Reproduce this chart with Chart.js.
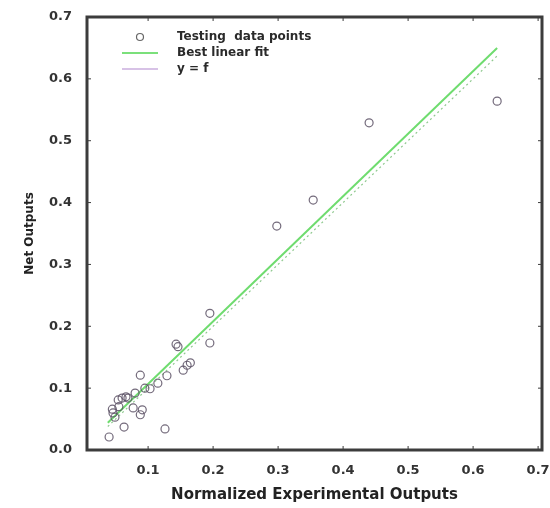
<!DOCTYPE html>
<html>
<head>
<meta charset="utf-8">
<script src="https://cdn.jsdelivr.net/npm/chart.js@4.4.0/dist/chart.umd.min.js"></script>
<style>
    html, body { margin: 0; padding: 0; background: #fff; }
    #wrap { width: 550px; height: 508px; position: relative; }
</style>
</head>
<body>
<div id="wrap"><canvas id="fitChart"></canvas></div>
<script>
// Testing data
const expOutputs = [0.040, 0.045, 0.049, 0.063, 0.060, 0.066, 0.055, 0.077, 0.080, 0.088,
    0.091, 0.088, 0.095, 0.103, 0.115, 0.129, 0.126, 0.143, 0.146, 0.154,
    0.160, 0.165, 0.195, 0.195, 0.298, 0.354, 0.440, 0.637, 0.054, 0.046, 0.069];
const netOutputs = [0.021, 0.066, 0.053, 0.037, 0.084, 0.086, 0.070, 0.068, 0.092, 0.121,
    0.065, 0.057, 0.100, 0.099, 0.108, 0.120, 0.034, 0.171, 0.167, 0.129,
    0.137, 0.141, 0.221, 0.173, 0.362, 0.404, 0.529, 0.564, 0.081, 0.060, 0.084];

// Best linear fit and y = f line end points
const fitX = [0.038, 0.637];
const fitY = [0.044, 0.650];
const identX = [0.038, 0.637];
const identY = [0.038, 0.637];

const tickValues = [0.1, 0.2, 0.3, 0.4, 0.5, 0.6, 0.7];
const yTickValues = [0.0, 0.1, 0.2, 0.3, 0.4, 0.5, 0.6, 0.7];

const legendLabels = ['Testing  data points', 'Best linear fit', 'y = f'];

const pts = expOutputs.map((x, i) => ({ x: x, y: netOutputs[i] }));
const fitPts = fitX.map((x, i) => ({ x: x, y: fitY[i] }));
const identPts = identX.map((x, i) => ({ x: x, y: identY[i] }));

const FONT = '"DejaVu Sans", Verdana, sans-serif';
const tickFont = { family: FONT, size: 13, weight: 'bold' };

// frame + inward tick marks on all four sides
const framePlugin = {
    id: 'frame',
    afterDraw(chart) {
        const ctx = chart.ctx;
        const a = chart.chartArea;
        const xs = chart.scales.x, ys = chart.scales.y;
        ctx.save();
        ctx.strokeStyle = '#3c3c3c';
        ctx.lineWidth = 1;
        xs.ticks.forEach(t => {
            const px = xs.getPixelForValue(t.value);
            ctx.beginPath();
            ctx.moveTo(px, a.bottom); ctx.lineTo(px, a.bottom - 4);
            ctx.moveTo(px, a.top); ctx.lineTo(px, a.top + 4);
            ctx.stroke();
        });
        ys.ticks.forEach(t => {
            const py = ys.getPixelForValue(t.value);
            ctx.beginPath();
            ctx.moveTo(a.left, py); ctx.lineTo(a.left + 4, py);
            ctx.moveTo(a.right, py); ctx.lineTo(a.right - 4, py);
            ctx.stroke();
        });
        ctx.lineWidth = 3;
        ctx.strokeRect(a.left, a.top, a.right - a.left, a.bottom - a.top);
        ctx.restore();
    }
};

// legend drawn inside the plot, top left
const legendPlugin = {
    id: 'innerLegend',
    afterDraw(chart) {
        const ctx = chart.ctx;
        ctx.save();
        ctx.font = 'bold 12px ' + FONT;
        ctx.fillStyle = '#2a2a2a';
        ctx.textBaseline = 'middle';
        const rows = [37, 53, 69];
        // marker
        ctx.strokeStyle = '#666';
        ctx.lineWidth = 1.2;
        ctx.beginPath();
        ctx.arc(140, rows[0], 3.5, 0, Math.PI * 2);
        ctx.stroke();
        ctx.lineWidth = 2;
        ctx.strokeStyle = '#7be07b';
        ctx.beginPath(); ctx.moveTo(122, rows[1]); ctx.lineTo(158, rows[1]); ctx.stroke();
        ctx.strokeStyle = '#d7c2e6';
        ctx.beginPath(); ctx.moveTo(122, rows[2]); ctx.lineTo(158, rows[2]); ctx.stroke();
        legendLabels.forEach((txt, i) => ctx.fillText(txt, 177, rows[i]));
        ctx.restore();
    }
};

new Chart(document.getElementById('fitChart'), {
    type: 'scatter',
    data: {
        datasets: [{
            label: legendLabels[0],
            data: pts,
            pointStyle: 'circle',
            pointRadius: 4,
            pointBorderWidth: 1.2,
            borderColor: 'rgba(90, 80, 100, 0.85)',
            backgroundColor: 'rgba(0,0,0,0)',
            order: 1
        }, {
            label: legendLabels[1],
            data: fitPts,
            showLine: true,
            borderColor: '#6fdc6f',
            borderWidth: 2,
            pointRadius: 0,
            order: 2
        }, {
            label: legendLabels[2],
            data: identPts,
            showLine: true,
            borderColor: '#8fc98f',
            borderWidth: 1.2,
            borderDash: [2, 3],
            pointRadius: 0,
            order: 3
        }]
    },
    options: {
        responsive: true,
        maintainAspectRatio: false,
        animation: false,
        layout: { padding: { top: 17, right: 8, left: 19, bottom: 0 } },
        plugins: {
            legend: { display: false },
            tooltip: { enabled: false }
        },
        scales: {
            x: {
                type: 'linear',
                min: 0.006,
                max: 0.706,
                afterBuildTicks: s => { s.ticks = tickValues.map(v => ({ value: v })); },
                afterFit: s => { s.height = 58; s.paddingLeft = 0; s.paddingRight = 0; },
                grid: { display: false },
                border: { display: false },
                ticks: {
                    color: '#333',
                    font: tickFont,
                    padding: 5,
                    callback: v => v.toFixed(1)
                },
                title: {
                    display: true,
                    text: 'Normalized Experimental Outputs',
                    color: '#222',
                    font: { family: FONT, size: 15, weight: 'bold' },
                    padding: { top: 11 }
                }
            },
            y: {
                type: 'linear',
                min: 0,
                max: 0.7,
                afterBuildTicks: s => { s.ticks = yTickValues.map(v => ({ value: v })); },
                afterFit: s => { s.width = 68; },
                grid: { display: false },
                border: { display: false },
                ticks: {
                    color: '#333',
                    font: tickFont,
                    padding: 7,
                    callback: v => v.toFixed(1)
                },
                title: {
                    display: true,
                    text: 'Net Outputs',
                    color: '#222',
                    font: { family: FONT, size: 12, weight: 'bold' },
                    padding: { bottom: 8 }
                }
            }
        }
    },
    plugins: [framePlugin, legendPlugin]
});
</script>
</body>
</html>
